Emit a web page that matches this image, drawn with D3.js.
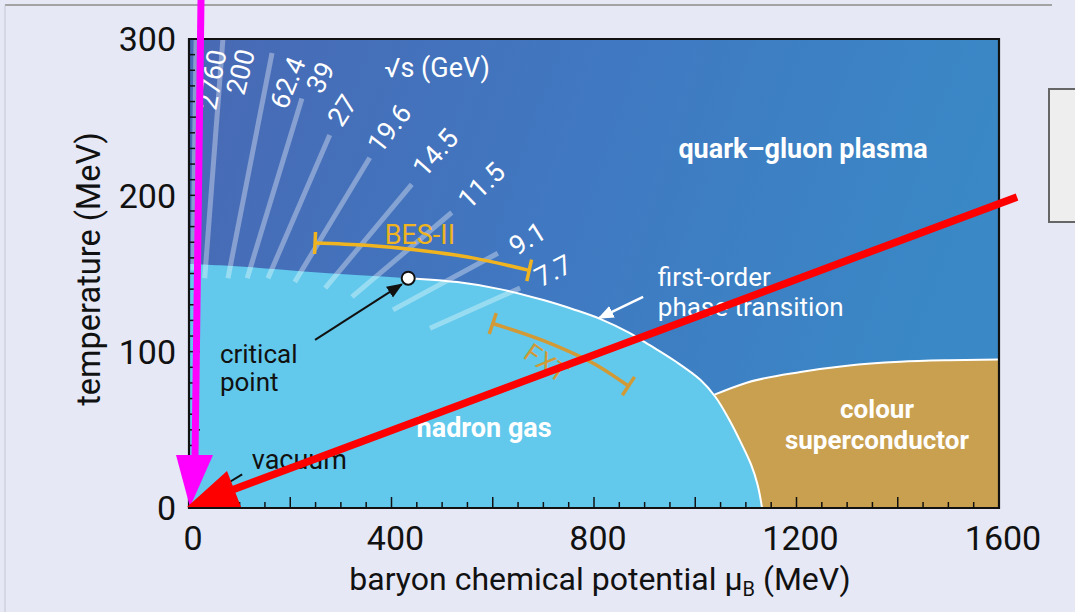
<!DOCTYPE html>
<html><head><meta charset="utf-8">
<script src="https://cdn.jsdelivr.net/npm/d3@7"></script>
<style>
html,body{margin:0;padding:0;background:#e6e8f6;}
svg{display:block;}
text{font-family:Roboto,"Liberation Sans",sans-serif;}
</style></head><body>
<svg id="c" width="1075" height="612"></svg>
<script>
// ---------- data ----------
const xTickLabels = [0, 400, 800, 1200, 1600];
const yTickLabels = [0, 100, 200, 300];
// phase boundary T(muB) of the hadron gas (MeV)
const phaseBoundary = [[0,156],[100,154.5],[220,151.5],[330,149],[433,147],[530,144.5],[614,140],[700,133],[760,127],[812,121],[870,112],[911,104],[960,94],[1010,82],[1040,71],[1068,56],[1090,42],[1110,28],[1123,15],[1132,0]];
// upper boundary of the colour superconductor
const superconductorBoundary = [[990,70],[1038,72.5],[1100,80],[1208,87],[1300,91],[1405,93.5],[1500,94.5],[1600,95]];
const criticalPoint = [433, 147];
// beam energies sqrt(s) in GeV and their freeze-out lines
const beamEnergies = ["2760","200","62.4","39","27","19.6","14.5","11.5","9.1","7.7"];
const beamLineStart = [[8,152],[31,147],[77,147],[115,147],[156,147],[209,144.6],[269,140.7],[322,135],[403,126.7],[476,115]];
const beamLineEnd   = [[14,300],[67,300],[164,291],[223,262],[278,238.6],[357,224],[440,207],[519,189],[610,163],[654,140.7]];
// BES-II and FXT coverage
const besII = [[249,169.5],[350,168],[450,165],[560,160],[672,152]];
const fxt = [[600,118],[700,107],[812,90],[868,78]];

// ---------- layout ----------
const svg = d3.select("#c");
const X0 = 189, X1 = 999, Y0 = 508, Y1 = 39;
const x = d3.scaleLinear().domain([0,1600]).range([X0,X1]);
const y = d3.scaleLinear().domain([0,300]).range([Y0,Y1]);

const defs = svg.append("defs");
const grad = defs.append("linearGradient").attr("id","qgp").attr("x1","0").attr("y1","0").attr("x2","1").attr("y2","0.2");
grad.append("stop").attr("offset","0").attr("stop-color","#4969b4");
grad.append("stop").attr("offset","0.5").attr("stop-color","#4078c1");
grad.append("stop").attr("offset","1").attr("stop-color","#3a88c6");
defs.append("clipPath").attr("id","plot").append("rect")
  .attr("x",X0).attr("y",Y1).attr("width",X1-X0).attr("height",Y0-Y1);
defs.append("clipPath").attr("id","first").append("rect")
  .attr("x",x(criticalPoint[0])).attr("y",Y1).attr("width",X1-x(criticalPoint[0])).attr("height",Y0-Y1);
function bigMarker(id,color){
  defs.append("marker").attr("id",id).attr("viewBox","0 0 10 10").attr("refX",9).attr("refY",5)
    .attr("markerWidth",16).attr("markerHeight",16).attr("markerUnits","userSpaceOnUse")
    .attr("orient","auto").append("path").attr("d","M0,1L10,5L0,9z").attr("fill",color);
}
bigMarker("abig","#111"); bigMarker("abig2","#fff");

// page decorations
svg.append("line").attr("x1",5).attr("y1",5).attr("x2",1052).attr("y2",5).attr("stroke","#8c8c88").attr("stroke-width",1.5);
svg.append("line").attr("x1",5).attr("y1",5).attr("x2",5).attr("y2",612).attr("stroke","#c4c6d2").attr("stroke-width",1);
svg.append("rect").attr("x",1049).attr("y",89).attr("width",60).attr("height",133)
  .attr("fill","#eeeeee").attr("stroke","#666").attr("stroke-width",2);

const g = svg.append("g").attr("clip-path","url(#plot)");
g.append("rect").attr("x",X0).attr("y",Y1).attr("width",X1-X0).attr("height",Y0-Y1).attr("fill","url(#qgp)");

const area = d3.area().x(d=>x(d[0])).y0(y(0)).y1(d=>y(d[1])).curve(d3.curveMonotoneX);
const line = d3.line().x(d=>x(d[0])).y(d=>y(d[1])).curve(d3.curveMonotoneX);
const smooth = d3.line().x(d=>x(d[0])).y(d=>y(d[1])).curve(d3.curveCatmullRom.alpha(0.5));
const hadronPath = smooth(phaseBoundary) + `L${x(0)},${y(0)}Z`;

g.append("path").attr("d",area(superconductorBoundary)).attr("fill","#c9a04f");
g.append("path").attr("d",hadronPath).attr("fill","#62c9ec");
g.append("path").attr("d",line(superconductorBoundary.slice(1))).attr("fill","none").attr("stroke","#fff").attr("stroke-width",2);
g.append("path").attr("d",smooth(phaseBoundary)).attr("fill","none").attr("stroke","#fff").attr("stroke-width",2)
  .attr("clip-path","url(#first)");

// beam energy lines
g.selectAll("line.beam").data(beamEnergies).join("line").attr("class","beam")
  .attr("x1",(d,i)=>x(beamLineStart[i][0])).attr("y1",(d,i)=>y(beamLineStart[i][1]))
  .attr("x2",(d,i)=>x(beamLineEnd[i][0])).attr("y2",(d,i)=>y(beamLineEnd[i][1]))
  .attr("stroke","#fff").attr("stroke-opacity",0.35).attr("stroke-width",5);

const beamLabelAt = [[45,274],[101,279],[194,272],[259,275.5],[302,254.5],[395,243],[486,227.5],[577,206.5],[668,172.5],[719,152]];
const beamLabelRot = [-80,-76,-68,-62,-57,-52,-48,-44,-32,-27];
g.selectAll("text.beam").data(beamEnergies).join("text").attr("class","beam")
  .attr("transform",(d,i)=>`translate(${x(beamLabelAt[i][0])},${y(beamLabelAt[i][1])}) rotate(${beamLabelRot[i]})`)
  .attr("text-anchor","middle").attr("dy","0.36em").attr("fill","#fff").attr("font-size",27).text(d=>d);

// BES-II / FXT bars
function bar(pts,color,w){
  g.append("path").attr("d",line(pts)).attr("fill","none").attr("stroke",color).attr("stroke-width",w);
  [[pts[0],pts[1]],[pts[pts.length-1],pts[pts.length-2]]].forEach(([p,q])=>{
    const dx=x(q[0])-x(p[0]), dy=y(q[1])-y(p[1]), L=Math.hypot(dx,dy);
    const nx=-dy/L*11, ny=dx/L*11;
    g.append("line").attr("x1",x(p[0])+nx).attr("y1",y(p[1])+ny).attr("x2",x(p[0])-nx).attr("y2",y(p[1])-ny)
      .attr("stroke",color).attr("stroke-width",w);
  });
}
bar(besII,"#f0b420",3.5);
bar(fxt,"#d29a36",3.5);

// arrows
g.append("line").attr("x1",x(249)).attr("y1",y(107.5)).attr("x2",x(420)).attr("y2",y(143))
  .attr("stroke","#111").attr("stroke-width",2).attr("marker-end","url(#abig)");
g.append("line").attr("x1",x(897)).attr("y1",y(135)).attr("x2",x(810)).attr("y2",y(121.5))
  .attr("stroke","#fff").attr("stroke-width",2.5).attr("marker-end","url(#abig2)");
g.append("line").attr("x1",x(77)).attr("y1",y(16)).attr("x2",x(105)).attr("y2",y(21.5))
  .attr("stroke","#111").attr("stroke-width",2);

g.append("circle").attr("cx",x(criticalPoint[0])).attr("cy",y(criticalPoint[1])).attr("r",6.5)
  .attr("fill","#fff").attr("stroke","#111").attr("stroke-width",2);

// text annotations
const notes = [
  {t:"√s (GeV)", m:490, T:275.5, a:"middle", c:"#fff", w:400, s:27},
  {t:"quark–gluon plasma", m:1213, T:224, a:"middle", c:"#fff", w:700, s:27},
  {t:"first-order", m:926, T:142, a:"start", c:"#fff", w:400, s:26},
  {t:"phase transition", m:926, T:123, a:"start", c:"#fff", w:400, s:26},
  {t:"critical", m:61, T:92.5, a:"start", c:"#111", w:400, s:26},
  {t:"point", m:61, T:75, a:"start", c:"#111", w:400, s:26},
  {t:"hadron gas", m:583, T:45.5, a:"middle", c:"#fff", w:700, s:27},
  {t:"vacuum", m:124, T:25, a:"start", c:"#111", w:400, s:27},
  {t:"colour", m:1359, T:57.5, a:"middle", c:"#fff", w:700, s:26},
  {t:"superconductor", m:1359, T:37.5, a:"middle", c:"#fff", w:700, s:26},
  {t:"BES-II", m:456, T:169, a:"middle", c:"#f0b420", w:400, s:27}
];
g.selectAll("text.note").data(notes).join("text").attr("class","note")
  .attr("x",d=>x(d.m)).attr("y",d=>y(d.T)).attr("text-anchor",d=>d.a)
  .attr("fill",d=>d.c).attr("font-weight",d=>d.w).attr("font-size",d=>d.s).text(d=>d.t);
g.append("text").attr("transform",`translate(${x(706)},${y(93)}) rotate(35)`).attr("text-anchor","middle")
  .attr("dy","0.36em").attr("fill","#d29a36").attr("font-size",26).text("FXT");

// axes: ticks inside
const axG = svg.append("g");
d3.range(0,1601,50).forEach(v=>{
  const L = v%200===0 ? 11 : 6;
  axG.append("line").attr("x1",x(v)).attr("x2",x(v)).attr("y1",Y0).attr("y2",Y0-L).attr("stroke","#111").attr("stroke-width",1.5);
});
d3.range(0,301,10).forEach(v=>{
  const L = v%50===0 ? 11 : 6;
  axG.append("line").attr("y1",y(v)).attr("y2",y(v)).attr("x1",X0).attr("x2",X0+L).attr("stroke","#111").attr("stroke-width",1.5);
});
axG.append("path").attr("d",`M${X0},${Y0}V${Y1}H${X1}V${Y0}Z`).attr("fill","none").attr("stroke","#111").attr("stroke-width",2.2);

axG.selectAll("text.xt").data(xTickLabels).join("text").attr("class","xt")
  .attr("x",d=>x(d)+4).attr("y",550).attr("text-anchor","middle").attr("font-size",34).attr("fill","#111").text(d=>d);
axG.selectAll("text.yt").data(yTickLabels).join("text").attr("class","yt")
  .attr("x",176).attr("y",d=>y(d)).attr("dy","0.36em").attr("text-anchor","end").attr("font-size",34).attr("fill","#111").text(d=>d);

axG.append("text").attr("transform","translate(100,269) rotate(-90)").attr("text-anchor","middle")
  .attr("font-size",32.5).attr("fill","#111").text("temperature (MeV)");
const xt = axG.append("text").attr("x",600).attr("y",590).attr("text-anchor","middle").attr("font-size",32).attr("fill","#111");
xt.append("tspan").text("baryon chemical potential μ");
xt.append("tspan").attr("font-size",20).attr("dy",6).text("B");
xt.append("tspan").attr("dy",-6).text(" (MeV)");

// overlay annotation arrows
const ov = svg.append("g");
ov.append("line").attr("x1",201).attr("y1",0).attr("x2",195).attr("y2",458).attr("stroke","#ff00ff").attr("stroke-width",7);
ov.append("path").attr("d","M176,455L213,455L190,507Z").attr("fill","#ff00ff");
ov.append("line").attr("x1",1017).attr("y1",197).attr("x2",232).attr("y2",490).attr("stroke","#ff0000").attr("stroke-width",7.5);
ov.append("path").attr("d","M187,507L227,471L241,507Z").attr("fill","#ff0000");
</script>
</body></html>
